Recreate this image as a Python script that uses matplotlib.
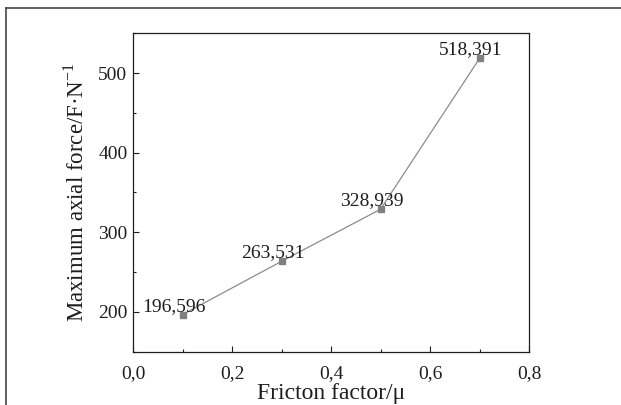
import matplotlib
matplotlib.use("Agg")
import matplotlib.pyplot as plt
from matplotlib.ticker import MultipleLocator, FuncFormatter
from matplotlib.lines import Line2D

friction = [0.1, 0.3, 0.5, 0.7]
axial_force = [196.596, 263.531, 328.939, 518.391]
point_labels = ["196,596", "263,531", "328,939", "518,391"]

plt.rcParams['font.family'] = ['Liberation Serif', 'DejaVu Serif']
plt.rcParams['mathtext.fontset'] = 'custom'
plt.rcParams['mathtext.rm'] = 'Liberation Serif'

fig = plt.figure(figsize=(6.21, 4.05), dpi=100)
ax = fig.add_axes([0.2142, 0.1316, 0.6377, 0.7862])

ax.plot(friction, axial_force, color='#8c8c8c', lw=0.9, marker='s', ms=4.2,
        mfc='#808080', mec='#808080')
for xv, yv, lab in zip(friction, axial_force, point_labels):
    ax.annotate(lab, (xv, yv), xytext=(-9, 4), textcoords='offset pixels',
                ha='center', va='baseline', fontsize=14, color='#1e1e1e')

ax.set_xlim(0, 0.8)
ax.set_ylim(150, 550)
ax.xaxis.set_major_locator(MultipleLocator(0.2))
ax.xaxis.set_minor_locator(MultipleLocator(0.1))
ax.yaxis.set_major_locator(MultipleLocator(100))
ax.yaxis.set_minor_locator(MultipleLocator(50))
ax.xaxis.set_major_formatter(FuncFormatter(lambda v, p: f"{v:.1f}".replace('.', ',')))
ax.yaxis.set_major_formatter(FuncFormatter(lambda v, p: f"{v:.0f}"))

ax.tick_params(which='both', direction='in', colors='#1e1e1e', width=0.8)
ax.tick_params(which='major', length=4.5, labelsize=14)
ax.tick_params(which='minor', length=2.5)
ax.tick_params(axis='x', which='major', pad=10)
ax.tick_params(axis='y', which='major', pad=4)
for sp in ax.spines.values():
    sp.set_linewidth(0.9)
    sp.set_color('#1e1e1e')

ax.set_xlabel('Fricton factor/\u03bc', fontsize=17, color='#1e1e1e', labelpad=0)
ax.set_ylabel('Maximum axial force/F\u00b7N$^{\\mathregular{-1}}$', fontsize=16.5,
              color='#1e1e1e', labelpad=7)

# outer frame lines of the original figure
fig.add_artist(Line2D([5.7 / 621, 1.0], [1 - 7.5 / 405] * 2, color='#444444', lw=1.2))
fig.add_artist(Line2D([5.7 / 621] * 2, [0.0, 1 - 7.5 / 405], color='#444444', lw=1.2))

fig.savefig('out.png', dpi=100)
